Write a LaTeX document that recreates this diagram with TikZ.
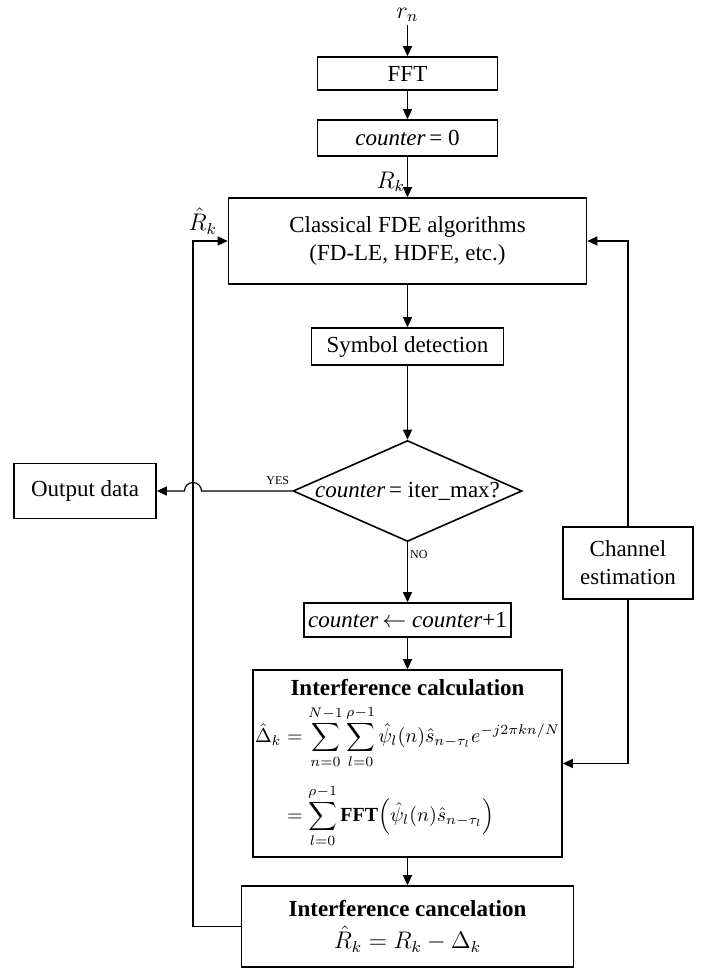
\documentclass[tikz,border=0pt]{standalone}
\usepackage{amsmath,amssymb}
\usepackage{fontspec}
\setmainfont{Liberation Serif}
\usepackage{tikz}
\usetikzlibrary{arrows.meta,shapes.geometric}

\begin{document}
\begin{tikzpicture}[x=0.5pt, y=-0.5pt, >={Triangle[length=5pt,width=4.5pt]}, line width=0.6pt,
  every node/.style={font=\fontsize{11.5}{14}\selectfont},
  blk/.style={draw, line width=0.8pt, inner sep=1pt, align=center},
  test/.style={draw, diamond, line width=0.8pt, inner sep=0pt, aspect=2.27},
  lbl/.style={inner sep=1pt},
  tag/.style={font=\fontsize{6}{7}\selectfont, inner sep=1pt}]
  \useasboundingbox (0,0) rectangle (705,969);

  % Main chain
  \node[lbl] (rn) at (407.5,15) {$r_n$};
  \node[blk, minimum width=90pt, minimum height=16.5pt] (fft) at (407.5,73.5) {FFT};
  \node[blk, minimum width=90pt, minimum height=18pt] (cnt0) at (407.5,138) {\textit{counter}\,= 0};
  \node[blk, minimum width=179pt, minimum height=43pt] (fde) at (407.5,241) {Classical FDE algorithms\\(FD-LE, HDFE, etc.)};
  \node[blk, minimum width=96pt, minimum height=18.5pt] (sym) at (407.5,346.5) {Symbol detection};
  \node[test, minimum width=114.5pt, minimum height=50.5pt] (chk) at (407.5,491) {\textit{counter}\,= iter\_max?};
  \node[blk, minimum width=71pt, minimum height=27.5pt] (out) at (85,491) {Output data};
  \node[blk, minimum width=103.5pt, minimum height=17pt] (inc) at (407.5,620) {\textit{counter}\,$\leftarrow$ \textit{counter}+1};
  \node[blk, minimum width=65pt, minimum height=36pt] (chan) at (628,563) {Channel\\estimation};
  \node[blk, minimum width=152.5pt, minimum height=93.5pt] (calc) at (407.5,763.5) {\textbf{Interference calculation}\\[4pt]
    {\fontsize{10}{12}\selectfont
    $\begin{aligned}
      \hat{\Delta}_k &= \sum_{n=0}^{N-1}\sum_{l=0}^{\rho-1}\hat{\psi}_l(n)\hat{s}_{n-\tau_l}e^{-j2\pi kn/N}\\[4pt]
      &= \sum_{l=0}^{\rho-1}\mathbf{FFT}\Bigl(\hat{\psi}_l(n)\hat{s}_{n-\tau_l}\Bigr)
    \end{aligned}$}};
  \node[blk, minimum width=166pt, minimum height=40.5pt] (canc) at (407.5,926.5) {\textbf{Interference cancelation}\\[2pt] $\hat{R}_k = R_k - \Delta_k$};

  \draw[->] (rn) -- (fft);
  \draw[->] (fft) -- (cnt0);
  \draw[->] (cnt0) -- node[lbl, left, pos=0.62] {$R_k$} (fde);
  \draw[->] (fde) -- (sym);
  \draw[->] (sym) -- (chk);
  \draw[->] (chk) -- node[tag, right, pos=0.2] {NO} (inc);
  \draw[->] (inc) -- (calc);
  \draw[->] (calc) -- (canc);

  % YES branch, hopping over the feedback line
  \coordinate (hop) at (201.5,491);
  \draw[->] (chk.west) -- node[tag, above, pos=0.16, yshift=2pt] {YES} (hop)
    arc[start angle=0, end angle=180, radius=4.25pt] -- (out.east);

  % Feedback to the equaliser
  \coordinate (fbl) at (193,0);
  \draw[->] (canc.west) -- (canc.west -| fbl) -- (fde.west -| fbl)
    -- node[lbl, above, pos=0.28, yshift=2pt] {$\hat{R}_k$} (fde.west);

  % Channel estimation loop
  \draw[->] (chan.north) |- (fde.east);
  \draw[->] (chan.south) |- (calc.east);
\end{tikzpicture}
\end{document}
